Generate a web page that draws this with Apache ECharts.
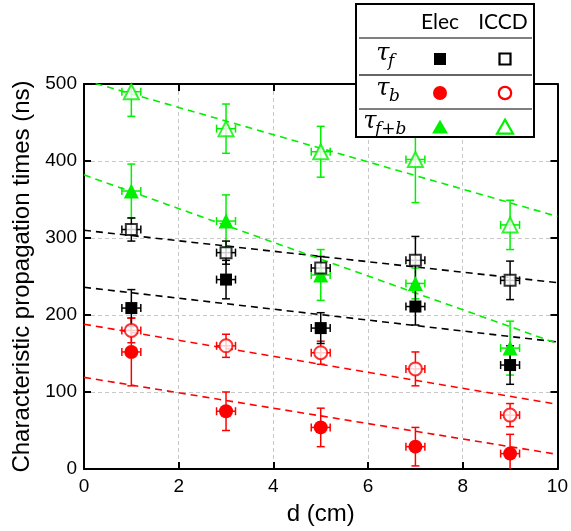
<!DOCTYPE html>
<html><head><meta charset="utf-8">
<script src="https://cdn.jsdelivr.net/npm/echarts@6/dist/echarts.min.js"></script>
<style>html,body{margin:0;padding:0;background:#fff}#c{width:571px;height:531px}</style>
</head><body><div id="c"></div>
<script>
// ---- data ----
const xs = [1, 3, 5, 7, 9];
const xErr = 0.2;
const elecF = [209, 246, 183, 211, 135];
const elecFErr = [24, 25, 20, 24, 25];
const iccdF = [311, 281, 261, 271, 245];
const iccdFErr = [15, 15, 15, 31, 25];
const elecB = [152, 75, 54, 29, 20];
const elecBErr = [44, 25, 25, 25, 25];
const iccdB = [180, 160, 151, 130, 70];
const iccdBErr = [16, 15, 15, 22, 15];
const elecFB = [361, 322, 252, 241, 157];
const elecFBErr = [35, 34, 33, 20, 35];
const iccdFB = [490, 442, 412, 402, 317];
const iccdFBErr = [32, 32, 33, 56, 32];
// fitted lines: value at d=0 and d=10
const fitX = [0, 10];
const fitElecF = [236, 165];
const fitIccdF = [310, 242];
const fitElecB = [119, 19];
const fitIccdB = [188, 84];
const fitElecFB = [382, 163];
const fitIccdFB = [505, 328];
const xTicks = [0, 2, 4, 6, 8, 10];
const yTicks = [0, 100, 200, 300, 400, 500];

const BLACK = '#000000', RED = '#ff0000', GREEN = '#00f000';
const FONT = '"Liberation Sans", Arial, sans-serif';

function pts(vals, errs) { return xs.map((x, i) => [x, vals[i], xErr, errs ? errs[i] : 0]); }

function errSeries(vals, errs, color) {
  return {
    type: 'custom', clip: true, z: 3, silent: true,
    data: pts(vals, errs),
    renderItem: function (params, api) {
      const x = api.value(0), y = api.value(1), dx = api.value(2), dy = api.value(3);
      const c = api.coord([x, y]);
      const top = api.coord([x, y + dy]), bot = api.coord([x, y - dy]);
      const l = api.coord([x - dx, y]), r = api.coord([x + dx, y]);
      const cap = 4;
      const st = { stroke: color, lineWidth: 1.5, fill: 'none' };
      return {
        type: 'group', children: [
          { type: 'line', shape: { x1: top[0], y1: top[1], x2: bot[0], y2: bot[1] }, style: st },
          { type: 'line', shape: { x1: top[0] - cap, y1: top[1], x2: top[0] + cap, y2: top[1] }, style: st },
          { type: 'line', shape: { x1: bot[0] - cap, y1: bot[1], x2: bot[0] + cap, y2: bot[1] }, style: st },
          { type: 'line', shape: { x1: l[0], y1: l[1], x2: r[0], y2: r[1] }, style: st },
          { type: 'line', shape: { x1: l[0], y1: l[1] - cap, x2: l[0], y2: l[1] + cap }, style: st },
          { type: 'line', shape: { x1: r[0], y1: r[1] - cap, x2: r[0], y2: r[1] + cap }, style: st }
        ]
      };
    }
  };
}
function markSeries(vals, symbol, size, color, hollow) {
  return {
    type: 'scatter', z: 5, symbol: symbol, symbolSize: size,
    data: xs.map((x, i) => [x, vals[i]]),
    itemStyle: hollow ? { color: '#ffffff', borderColor: color, borderWidth: 2 } : { color: color, opacity: 1 },
    emphasis: { disabled: true }
  };
}
function fitSeries(vals, color) {
  return {
    type: 'line', z: 2, symbol: 'none', silent: true,
    data: fitX.map((x, i) => [x, vals[i]]),
    lineStyle: { color: color, width: 1.6, type: [7, 5] }
  };
}

const chart = echarts.init(document.getElementById('c'));
const axisLine = { show: true, onZero: false, lineStyle: { color: '#000', width: 2 } };
const gridLine = { show: true, lineStyle: { color: '#c8c8c8', type: [4, 3], width: 1 } };

// legend box graphics
const LX = 356, LY = 4, LW = 178, LH = 133;
const colE = 440, colI = 505;
const rows = [59, 93, 128];
function tau(x, y, sub, subDx) {
  return [
    { type: 'text', z: 101, x: x, y: y, style: { text: 'τ', font: 'italic 24px "DejaVu Serif", serif', fill: '#000', align: 'center', verticalAlign: 'middle' } },
    { type: 'text', z: 101, x: x + subDx, y: y + 8, style: { text: sub, font: 'italic 17px "DejaVu Serif", serif', fill: '#000', align: 'left', verticalAlign: 'middle' } }
  ];
}
function tri(cx, cy, s, color, hollow) {
  const h = s * 0.87;
  return { type: 'polygon', z: 101, shape: { points: [[cx, cy - h * 0.6], [cx + s / 2, cy + h * 0.4], [cx - s / 2, cy + h * 0.4]] },
    style: hollow ? { fill: '#fff', stroke: color, lineWidth: 2.2 } : { fill: color } };
}
const graphics = [
  { type: 'rect', z: 100, shape: { x: LX, y: LY, width: LW, height: LH }, style: { fill: '#fff', stroke: '#000', lineWidth: 2 } },
  { type: 'line', z: 101, shape: { x1: LX + 3, y1: 38, x2: LX + LW - 2, y2: 38 }, style: { stroke: '#555', lineWidth: 1.5 } },
  { type: 'line', z: 101, shape: { x1: LX + 3, y1: 75, x2: LX + LW - 2, y2: 75 }, style: { stroke: '#333', lineWidth: 1.5 } },
  { type: 'line', z: 101, shape: { x1: LX + 3, y1: 109, x2: LX + LW - 2, y2: 109 }, style: { stroke: '#555', lineWidth: 1.5 } },
  { type: 'text', z: 101, x: colE, y: 22, style: { text: 'Elec', font: '21px Lato, "Open Sans", sans-serif', fill: '#000', align: 'center', verticalAlign: 'middle' } },
  { type: 'text', z: 101, x: colI - 2, y: 22, style: { text: 'ICCD', font: '21px Lato, "Open Sans", sans-serif', fill: '#000', align: 'center', verticalAlign: 'middle' } },
  ...tau(383, 54, 'f', 5),
  ...tau(383, 89, 'b', 6),
  ...tau(370, 122, 'f+b', 5),
  { type: 'rect', z: 101, shape: { x: colE - 6, y: rows[0] - 6, width: 12, height: 12 }, style: { fill: BLACK } },
  { type: 'rect', z: 101, shape: { x: colI - 5.5, y: rows[0] - 5.5, width: 11, height: 11 }, style: { fill: '#fff', stroke: BLACK, lineWidth: 2.2 } },
  { type: 'circle', z: 101, shape: { cx: colE, cy: rows[1], r: 7 }, style: { fill: RED } },
  { type: 'circle', z: 101, shape: { cx: colI, cy: rows[1], r: 6.2 }, style: { fill: '#fff', stroke: RED, lineWidth: 2.2 } },
  tri(colE, rows[2], 16, GREEN, false),
  tri(colI, rows[2], 16, GREEN, true)
];

chart.setOption({
  animation: false,
  backgroundColor: '#fff',
  grid: { left: 84, right: 13, top: 84, bottom: 62 },
  xAxis: [
    { type: 'value', min: 0, max: 10, interval: 2, position: 'bottom',
      name: 'd (cm)', nameLocation: 'middle', nameGap: 33,
      nameTextStyle: { fontFamily: FONT, fontSize: 24, color: '#000' },
      axisLine: axisLine, axisTick: { show: true, inside: true, length: 7, lineStyle: { color: '#000', width: 2 } },
      axisLabel: { fontFamily: FONT, fontSize: 19, color: '#000', margin: 8, formatter: v => xTicks.includes(v) ? String(v) : '' },
      splitLine: gridLine },
    { type: 'value', min: 0, max: 10, interval: 2, position: 'top',
      axisLine: axisLine, axisTick: { show: true, inside: true, length: 7, lineStyle: { color: '#000', width: 2 } },
      axisLabel: { show: false }, splitLine: { show: false } }
  ],
  yAxis: [
    { type: 'value', min: 0, max: 500, interval: 100, position: 'left',
      name: 'Characteristic propagation times (ns)', nameLocation: 'middle', nameGap: 47,
      nameTextStyle: { fontFamily: FONT, fontSize: 24, color: '#000' },
      axisLine: axisLine, axisTick: { show: true, inside: true, length: 7, lineStyle: { color: '#000', width: 2 } },
      axisLabel: { fontFamily: FONT, fontSize: 19, color: '#000', margin: 7, formatter: v => yTicks.includes(v) ? String(v) : '' },
      splitLine: gridLine },
    { type: 'value', min: 0, max: 500, interval: 100, position: 'right',
      axisLine: axisLine, axisTick: { show: true, inside: true, length: 7, lineStyle: { color: '#000', width: 2 } },
      axisLabel: { show: false }, splitLine: { show: false } }
  ],
  series: [
    fitSeries(fitElecF, BLACK), fitSeries(fitIccdF, BLACK),
    fitSeries(fitElecB, RED), fitSeries(fitIccdB, RED),
    fitSeries(fitElecFB, GREEN), fitSeries(fitIccdFB, GREEN),
    errSeries(elecFB, elecFBErr, GREEN), errSeries(iccdFB, iccdFBErr, GREEN),
    errSeries(iccdB, iccdBErr, RED), errSeries(elecB, elecBErr, RED),
    errSeries(elecF, elecFErr, BLACK), errSeries(iccdF, iccdFErr, BLACK),
    markSeries(elecFB, 'triangle', 15, GREEN, false), markSeries(iccdFB, 'triangle', 15, GREEN, true),
    markSeries(elecB, 'circle', 14, RED, false), markSeries(iccdB, 'circle', 13, RED, true),
    markSeries(elecF, 'rect', 12, BLACK, false), markSeries(iccdF, 'rect', 11, BLACK, true)
  ],
  graphic: graphics
});
</script></body></html>
